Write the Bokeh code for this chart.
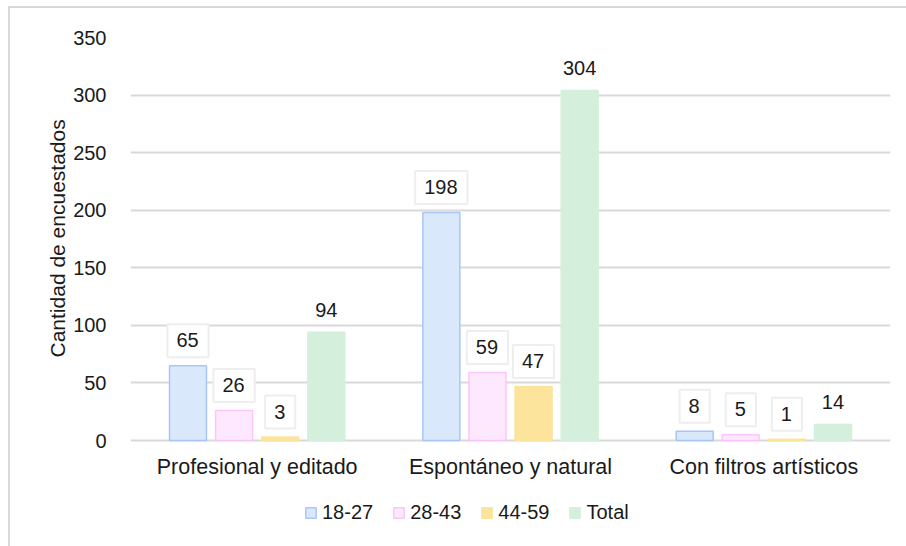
from bokeh.plotting import figure
from bokeh.models import (ColumnDataSource, FactorRange, Range1d,
                          Legend, LegendItem, FixedTicker, Title)
from bokeh.core.properties import value
from bokeh.transform import dodge
from bokeh.embed import file_html
from bokeh.resources import INLINE

categories = ["Profesional y editado", "Espontáneo y natural", "Con filtros artísticos"]
series = ["18-27", "28-43", "44-59", "Total"]
v_18_27 = [65, 198, 8]
v_28_43 = [26, 59, 5]
v_44_59 = [3, 47, 1]
v_total = [94, 304, 14]
y_ticks = [0, 50, 100, 150, 200, 250, 300, 350]

fills = ["#dae8fc", "#fde8fd", "#fde49c", "#d4f0dc"]
lines = ["#a9c6f5", "#fbc6fb", "#fde49c", "#d4f0dc"]
offsets = [-0.273, -0.091, 0.091, 0.273]
FONT = "Liberation Sans"
INK = "#1a1a1a"

# plot area: value axis spans 403 px for 0..350; the frame continues 106 px
# below zero to host the category labels and the legend
Y_MAX = 350
PX_PLOT, PX_BELOW = 403, 106
y_start = -PX_BELOW * Y_MAX / PX_PLOT

src = ColumnDataSource(dict(
    cat=categories,
    s0=v_18_27, s1=v_28_43, s2=v_44_59, s3=v_total,
    t0=[str(v) for v in v_18_27], t1=[str(v) for v in v_28_43],
    t2=[str(v) for v in v_44_59], t3=[str(v) for v in v_total],
    base=[0] * len(categories),
))

# chart-area frame drawn as a CSS background behind a transparent border area
frame_bg = ("linear-gradient(#d9d9d9, #d9d9d9) 8px 6px / 2px 100% no-repeat, "
            "linear-gradient(#d9d9d9, #d9d9d9) 8px 6px / 100% 2px no-repeat, white")

p = figure(width=906, height=546, x_range=FactorRange(*categories),
           y_range=Range1d(y_start, Y_MAX), output_backend="svg", toolbar_location=None,
           min_border_left=130, min_border_right=16, min_border_top=37,
           min_border_bottom=0, styles={"background": frame_bg})
p.outline_line_color = None
p.background_fill_color = "white"
p.border_fill_alpha = 0

renderers = []
for i, name in enumerate(series):
    r = p.vbar(x=dodge("cat", offsets[i], range=p.x_range), top=f"s{i}", width=0.146,
               source=src, fill_color=fills[i], line_color=lines[i], line_width=1.5)
    renderers.append(r)

# value labels: boxed for age groups, plain for totals
for i in range(4):
    boxed = i < 3
    kw = dict(background_fill_color="white", border_line_color="#eeeeee",
              border_line_width=2, padding=(9, 10, 9, 10)) if boxed else {}
    p.text(x=dodge("cat", offsets[i], range=p.x_range), y=f"s{i}", text=f"t{i}",
           source=src, text_align="center", text_baseline="middle",
           y_offset=-25 if boxed else -22, text_font=value(FONT),
           text_font_size="20px", text_color=INK, **kw)

# category labels under the zero line
p.text(x="cat", y="base", text="cat", source=src, text_align="center",
       text_baseline="middle", y_offset=26, text_font=value(FONT),
       text_font_size="21.5px", text_color=INK)

# value axis
p.yaxis.ticker = FixedTicker(ticks=y_ticks)
p.yaxis.axis_line_color = None
p.yaxis.major_tick_line_color = None
p.yaxis.minor_tick_line_color = None
p.yaxis.major_label_text_font = FONT
p.yaxis.major_label_text_font_size = "20px"
p.yaxis.major_label_text_color = INK
p.yaxis.major_label_standoff = 18

p.add_layout(Title(text="Cantidad de encuestados", align="left", offset=189,
                   text_font=FONT, text_font_size="21px", text_font_style="normal",
                   text_color=INK, standoff=4), "left")

p.xaxis.visible = False
p.xgrid.grid_line_color = None
p.ygrid.grid_line_color = "#d9d9d9"
p.ygrid.grid_line_width = 2

legend = Legend(items=[LegendItem(label=series[i], renderers=[renderers[i]]) for i in range(4)],
                orientation="horizontal", location=(174, 22),
                label_text_font=FONT, label_text_font_size="20px", label_text_color=INK,
                glyph_width=13, glyph_height=13, label_standoff=5, spacing=19,
                padding=0, margin=0, border_line_color=None, background_fill_alpha=0)
p.add_layout(legend)

open("out.html", "w").write(file_html(p, INLINE))
